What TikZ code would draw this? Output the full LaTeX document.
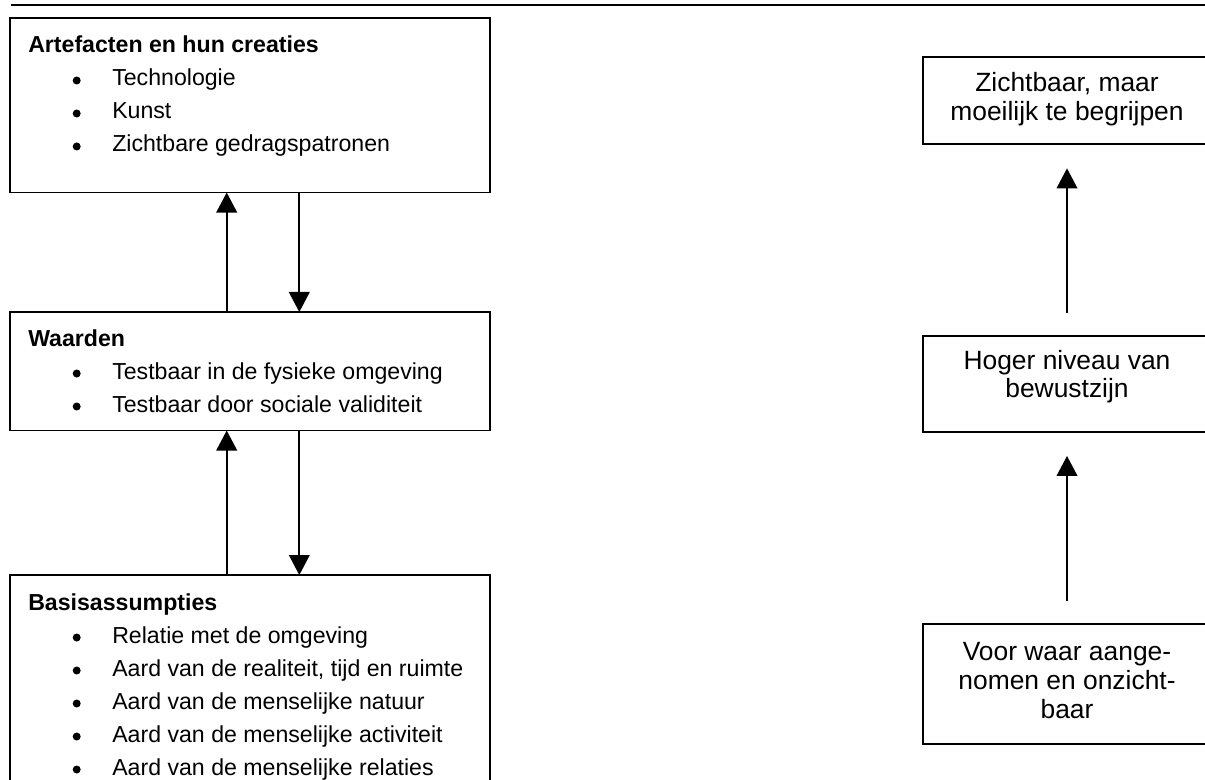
\documentclass[tikz,border=0pt]{standalone}
\usepackage{fontspec}
\setmainfont{Liberation Sans}
\usetikzlibrary{arrows.meta}
\begin{document}
\begin{tikzpicture}[x=0.75pt,y=-0.75pt,
  box/.style={draw, line width=1.4pt, inner sep=0pt, outer sep=0pt, anchor=north west},
  head/.style={anchor=base west, inner sep=0pt, font=\fontsize{17.35}{20}\selectfont\bfseries},
  item/.style={anchor=base west, inner sep=0pt, font=\fontsize{17.35}{20}\selectfont},
  dot/.style={circle, fill, inner sep=0pt, minimum size=6pt},
  side/.style={anchor=base, inner sep=0pt, font=\fontsize{19.8}{22}\selectfont},
  arr/.style={line width=1.4pt, -{Triangle[width=15.5pt,length=15pt]}}]
\clip (0,0) rectangle (1205,780);
\fill[white] (0,0) rectangle (1205,780);

% header rule
\draw[line width=1.5pt] (10.7,5) -- (1205,5);

% left column: three levels
\node[box, minimum width=360pt, minimum height=130.9pt] (art) at (10,18) {};
\node[box, minimum width=360pt, minimum height=88.9pt] (waa) at (10,312) {};
\node[box, minimum width=360pt, minimum height=183.8pt] (bas) at (10,575) {};

\node[head] (artT) at (28,53) {Artefacten en hun creaties};
\foreach \t [count=\i] in {Technologie, Kunst, Zichtbare gedragspatronen}{
  \node[dot] (artD\i) at (76.7,{53+33*\i-5.5}) {};
  \node[item] (artI\i) at (112,{53+33*\i}) {\t};
}

\node[head] (waaT) at (28,346) {Waarden};
\foreach \t [count=\i] in {Testbaar in de fysieke omgeving, Testbaar door sociale validiteit}{
  \node[dot] (waaD\i) at (76.7,{346+33*\i-5.5}) {};
  \node[item] (waaI\i) at (112,{346+33*\i}) {\t};
}

\node[head] (basT) at (28,610) {Basisassumpties};
\foreach \t [count=\i] in {Relatie met de omgeving, {Aard van de realiteit, tijd en ruimte},
    Aard van de menselijke natuur, Aard van de menselijke activiteit, Aard van de menselijke relaties}{
  \node[dot] (basD\i) at (76.7,{610+33*\i-5.5}) {};
  \node[item] (basI\i) at (112,{610+33*\i}) {\t};
}

% connectors between the levels
\coordinate (upx) at (226.7,0);
\coordinate (dnx) at (299.3,0);
\draw[arr] (waa.north -| upx) -- (art.south -| upx);
\draw[arr] (art.south -| dnx) -- (waa.north -| dnx);
\draw[arr] (bas.north -| upx) -- (waa.south -| upx);
\draw[arr] (waa.south -| dnx) -- (bas.north -| dnx);

% right column: visibility scale
\node[box, minimum width=216pt, minimum height=65.3pt] (vis) at (923,57.3) {};
\node[box, minimum width=216pt, minimum height=72pt] (bew) at (923,335.7) {};
\node[box, minimum width=216pt, minimum height=90pt] (onz) at (923,624) {};

\node[side] (vis1) at (1067,91.7) {Zichtbaar, maar};
\node[side] (vis2) at (1067,120.2) {moeilijk te begrijpen};
\node[side] (bew1) at (1067,369.3) {Hoger niveau van};
\node[side] (bew2) at (1067,397.7) {bewustzijn};
\node[side] (onz1) at (1067,660) {Voor waar aange-};
\node[side] (onz2) at (1067,689) {nomen en onzicht-};
\node[side] (onz3) at (1067,718.3) {baar};

\draw[arr] ([yshift=16.8pt]bew.north) -- ([yshift=-18pt]vis.south);
\draw[arr] ([yshift=17.5pt]onz.north) -- ([yshift=-18.2pt]bew.south);
\end{tikzpicture}
\end{document}
